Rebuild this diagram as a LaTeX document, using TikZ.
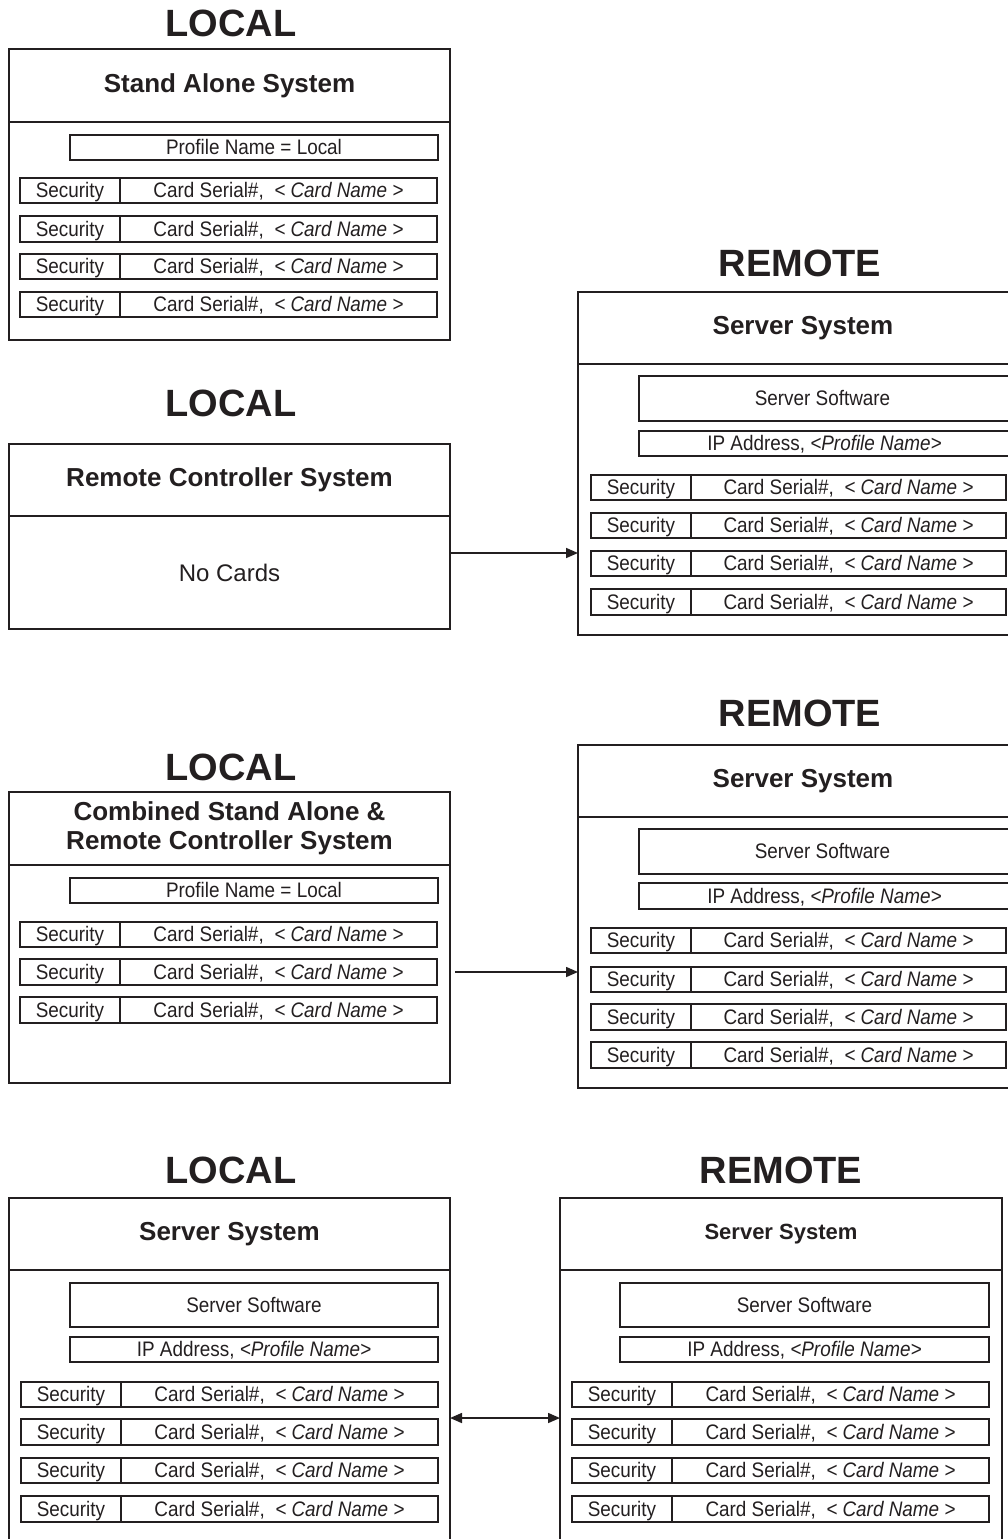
\documentclass[tikz,border=0pt]{standalone}
\usepackage{fontspec}
\setmainfont{Liberation Sans}
\newfontfamily\narrowsans[FakeStretch=0.9]{Liberation Sans}
\usetikzlibrary{arrows.meta}
\definecolor{ink}{HTML}{231F20}
\tikzset{
  cell/.style={draw=ink, line width=1.6pt, rectangle, inner sep=0pt, outer sep=0pt, anchor=north west, font=\narrowsans\fontsize{21}{23}\selectfont, text=ink, text height=15pt, text depth=1pt},
  hdr/.style={draw=ink, line width=1.6pt, rectangle, inner sep=0pt, outer sep=0pt, anchor=north west, align=center, text=ink, font=\bfseries\fontsize{26}{29}\selectfont},
  bigtitle/.style={font=\bfseries\fontsize{38}{40}\selectfont, text=ink, inner sep=0pt},
  arr/.style={draw=ink, line width=1.6pt}
}
\newcommand\Bx[6]{% name, x1, y1, x2, y2, text  (style cell)
  \node[cell, minimum width={#4-#2}, minimum height={#5-#3}] (#1) at (#2,#3) {#6};}
\newcommand\Hx[6]{% name, x1, y1, x2, y2, text (style hdr)
  \node[hdr, minimum width={#4-#2}, minimum height={#5-#3}] (#1) at (#2,#3) {#6};}
\newcommand\SecRow[6]{% name, x1, xm, x2, ytop, ybot
  \Bx{#1s}{#2}{#5}{#3}{#6}{Security}
  \Bx{#1c}{#3}{#5}{#4}{#6}{Card Serial\#,\ \ \textit{< Card Name >}}}
\begin{document}
\begin{tikzpicture}[x=1pt,y=-1pt]
\useasboundingbox (0,0) rectangle (1008,1539);
\clip (0,0) rectangle (1008,1539);
\fill[white] (0,0) rectangle (1008,1539);

% ---------- Panel 1: Stand Alone ----------
\node[bigtitle] (t1) at (231,23) {LOCAL};
\Hx{p1h}{9}{49}{450}{122}{Stand Alone System}
\Hx{p1b}{9}{122}{450}{340}{}
\Bx{p1prof}{70}{135}{438}{160}{Profile Name = Local}
\SecRow{p1r1}{20}{120}{437}{178}{203}
\SecRow{p1r2}{20}{120}{437}{216}{242}
\SecRow{p1r3}{20}{120}{437}{254}{279}
\SecRow{p1r4}{20}{120}{437}{292}{317}

% ---------- Panel 2: Remote Controller ----------
\node[bigtitle] (t2) at (231,403) {LOCAL};
\Hx{p2h}{9}{444}{450}{516}{Remote Controller System}
\node[hdr, font=\fontsize{24}{26}\selectfont, minimum width=441, minimum height=113] (p2b) at (9,516) {No Cards};

% ---------- Remote 1 ----------
\node[bigtitle] (t3) at (800,263) {REMOTE};
\Hx{r1h}{578}{292}{1014}{364}{\hspace*{14pt}Server System}
\Hx{r1b}{578}{364}{1014}{635}{}
\Bx{r1sw}{639}{376}{1014}{421}{\hspace*{-8pt}Server Software}
\Bx{r1ip}{639}{431}{1014}{456}{\hspace*{-4pt}IP Address, \textit{<Profile Name>}}
\SecRow{r1r1}{591}{691}{1006}{475}{500}
\SecRow{r1r2}{591}{691}{1006}{513}{538}
\SecRow{r1r3}{591}{691}{1006}{551}{576}
\SecRow{r1r4}{591}{691}{1006}{589}{615}

\coordinate (y2) at (0,553);
\draw[arr, -{Triangle[length=12pt,width=10pt]}] (p2b.east |- y2) -- (r1b.west |- y2);

% ---------- Panel 3: Combined ----------
\node[bigtitle] (t4) at (231,767) {LOCAL};
\Hx{p3h}{9}{792}{450}{865}{Combined Stand Alone \&\\Remote Controller System}
\Hx{p3b}{9}{865}{450}{1083}{}
\Bx{p3prof}{70}{878}{438}{903}{Profile Name = Local}
\SecRow{p3r1}{20}{120}{437}{922}{947}
\SecRow{p3r2}{20}{120}{437}{959}{985}
\SecRow{p3r3}{20}{120}{437}{997}{1023}

% ---------- Remote 2 ----------
\node[bigtitle] (t5) at (800,713) {REMOTE};
\Hx{r2h}{578}{745}{1014}{817}{\hspace*{14pt}Server System}
\Hx{r2b}{578}{817}{1014}{1088}{}
\Bx{r2sw}{639}{829}{1014}{874}{\hspace*{-8pt}Server Software}
\Bx{r2ip}{639}{883}{1014}{909}{\hspace*{-4pt}IP Address, \textit{<Profile Name>}}
\SecRow{r2r1}{591}{691}{1006}{928}{953}
\SecRow{r2r2}{591}{691}{1006}{967}{992}
\SecRow{r2r3}{591}{691}{1006}{1004}{1030}
\SecRow{r2r4}{591}{691}{1006}{1042}{1068}

\coordinate (a3) at (455,972);
\draw[arr, -{Triangle[length=12pt,width=10pt]}] (a3) -- (r2b.west |- a3);

% ---------- Panel 4: Local Server ----------
\node[bigtitle] (t6) at (231,1170) {LOCAL};
\Hx{p4h}{9}{1198}{450}{1270}{Server System}
\Hx{p4b}{9}{1270}{450}{1580}{}
\Bx{p4sw}{70}{1283}{438}{1327}{Server Software}
\Bx{p4ip}{70}{1337}{438}{1362}{IP Address, \textit{<Profile Name>}}
\SecRow{p4r1}{21}{121}{438}{1382}{1407}
\SecRow{p4r2}{21}{121}{438}{1419}{1445}
\SecRow{p4r3}{21}{121}{438}{1458}{1483}
\SecRow{p4r4}{21}{121}{438}{1496}{1522}

% ---------- Remote 4 ----------
\node[bigtitle] (t7) at (781,1170) {REMOTE};
\node[hdr, font=\bfseries\fontsize{22}{24}\selectfont, minimum width=442, minimum height=72] (r4h) at (560,1198) {Server System};
\Hx{r4b}{560}{1270}{1002}{1580}{}
\Bx{r4sw}{620}{1283}{989}{1327}{Server Software}
\Bx{r4ip}{620}{1337}{989}{1362}{IP Address, \textit{<Profile Name>}}
\SecRow{r4r1}{572}{672}{989}{1382}{1407}
\SecRow{r4r2}{572}{672}{989}{1419}{1445}
\SecRow{r4r3}{572}{672}{989}{1458}{1483}
\SecRow{r4r4}{572}{672}{989}{1496}{1522}

\coordinate (a4) at (0,1418);
\draw[arr, {Triangle[length=12pt,width=10pt]}-{Triangle[length=12pt,width=10pt]}] (p4b.east |- a4) -- (r4b.west |- a4);
\end{tikzpicture}
\end{document}
